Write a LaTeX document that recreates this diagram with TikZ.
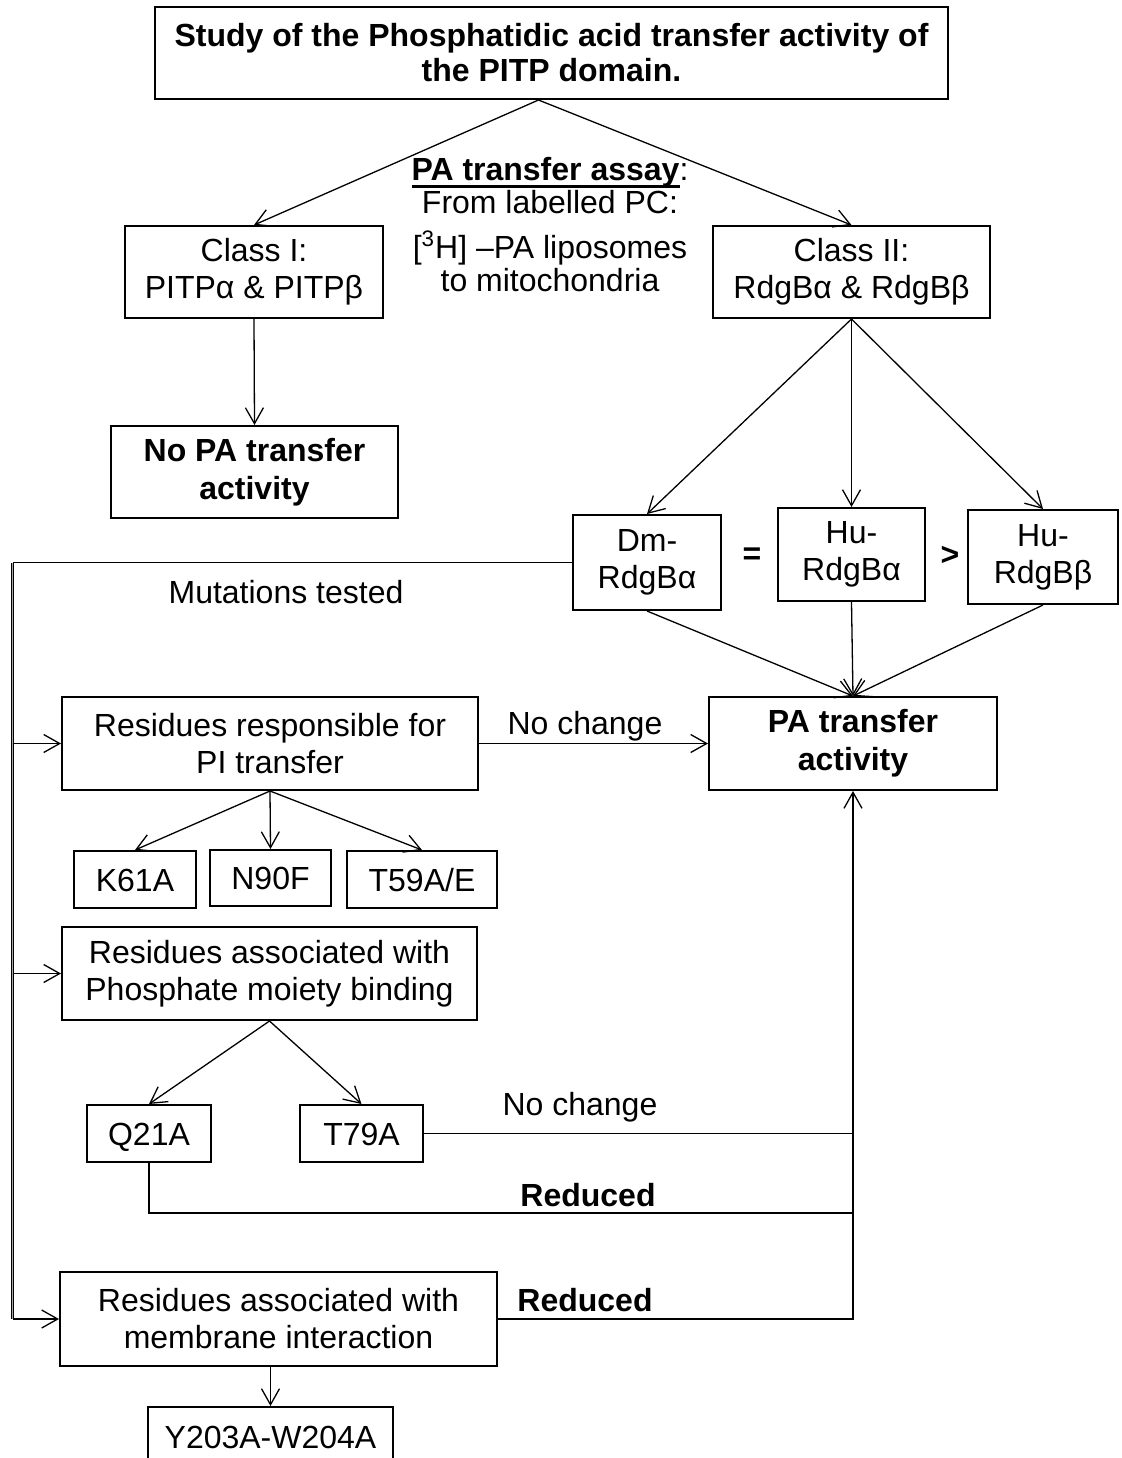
\documentclass[tikz,border=0pt]{standalone}
\usepackage{fontspec}
\setmainfont{Liberation Sans}
\usetikzlibrary{arrows.meta}
\newcommand\myul[1]{\setbox0\hbox{#1}\rlap{\rule[-3.3pt]{\wd0}{1.2pt}}\box0}
\begin{document}
\begin{tikzpicture}[x=0.5pt,y=-0.5pt,
  box/.style={draw, line width=1pt, inner sep=0pt, align=center, font=\fontsize{16}{18.5}\selectfont},
  sbox/.style={box, text height=11.6pt, text depth=0pt},
  bbox/.style={box, font=\fontsize{16}{19}\selectfont\bfseries},
  lbl/.style={inner sep=0pt, align=center, font=\fontsize{16}{18.5}\selectfont},
  blbl/.style={lbl, font=\fontsize{16}{18.5}\selectfont\bfseries},
  arr/.style={line width=0.65pt, -{Straight Barb[length=8pt,width=9pt]}},
  ln/.style={line width=0.65pt}]
\useasboundingbox (0,0) rectangle (1122,1458);
\begin{scope}
\clip (0,0) rectangle (1122,1458);
% boxes
\node[bbox, font=\fontsize{16}{17.5}\selectfont\bfseries, minimum width=396.5pt, minimum height=46pt] (title) at (551.5,53) {Study of the Phosphatidic acid transfer activity of\\the PITP domain.};
\node[box, minimum width=129pt, minimum height=46pt] (class1) at (254,272) {Class I:\\PITPα \& PITPβ};
\node[box, minimum width=138.5pt, minimum height=46pt] (class2) at (851.5,272) {Class II:\\RdgBα \& RdgBβ};
\node[bbox, minimum width=143.5pt, minimum height=46pt] (nopa) at (254.5,472) {No PA transfer\\activity};
\node[box, minimum width=74pt, minimum height=47.5pt] (dm) at (647,562.5) {Dm-\\RdgBα};
\node[box, minimum width=73.5pt, minimum height=46.5pt] (hua) at (851.5,554.5) {Hu-\\RdgBα};
\node[box, minimum width=75pt, minimum height=47pt] (hub) at (1043,557) {Hu-\\RdgBβ};
\node[bbox, minimum width=144pt, minimum height=46.5pt] (pa) at (853,743.5) {PA transfer\\activity};
\node[box, minimum width=208pt, minimum height=46.5pt] (pi) at (270,743.5) {Residues responsible for\\PI transfer};
\node[sbox, minimum width=61pt, minimum height=28.5pt] (k61) at (135,879.5) {K61A};
\node[sbox, minimum width=60.5pt, minimum height=28pt] (n90) at (270.5,878) {N90F};
\node[sbox, minimum width=75pt, minimum height=28.5pt] (t59) at (422,879.5) {T59A/E};
\node[box, minimum width=207.5pt, minimum height=46.5pt] (phos) at (269.5,973.5) {Residues associated with\\Phosphate moiety binding};
\node[sbox, minimum width=62pt, minimum height=28.5pt] (q21) at (149,1133.5) {Q21A};
\node[sbox, minimum width=61.5pt, minimum height=28.5pt] (t79) at (361.5,1133.5) {T79A};
\node[box, minimum width=218.5pt, minimum height=47pt] (mem) at (278.5,1319) {Residues associated with\\membrane interaction};
\node[sbox, minimum width=122.5pt, minimum height=30pt] (y203) at (270.5,1437) {Y203A-W204A};
% labels
\node[blbl] (eq) at (752,556) {=};
\node[blbl] (gt) at (950,556) {>};
\node[lbl] (assay) at (550,225) {\textbf{\myul{PA transfer assay}}:\\[-2pt]From labelled PC:\\[4pt]{[}\textsuperscript{3}H] --PA liposomes\\[-2pt]to mitochondria};
\node[lbl] (mut) at (286,592) {Mutations tested};
\node[lbl] (nc1) at (585,726) {No change};
\node[lbl] (nc2) at (580,1107) {No change};
\node[blbl] (red1) at (588,1195) {Reduced};
\node[blbl] (red2) at (585,1300) {Reduced};
% connectors
\draw[arr] ([xshift=-6.5pt]title.south) -- (class1.north);
\draw[arr] ([xshift=-6.5pt]title.south) -- (class2.north);
\draw[arr] (class1.south) -- (nopa.north);
\draw[arr] (class2.south) -- (dm.north);
\draw[arr] (class2.south) -- (hua.north);
\draw[arr] (class2.south) -- (hub.north);
\draw[arr] (dm.south) -- (pa.north);
\draw[arr] (hua.south) -- (pa.north);
\draw[arr] (hub.south) -- (pa.north);
\coordinate (busbot) at (12.5,1319);
\draw[ln] (dm.west) -- (dm.west -| busbot);
\draw[line width=0.5pt, double=gray!70, double distance=0.8pt] (dm.west -| busbot) -- (busbot);
\draw[arr] (busbot) -- (mem.west);
\draw[arr] (pi.west -| busbot) -- (pi.west);
\draw[arr] (phos.west -| busbot) -- (phos.west);
\draw[arr] (pi.east) -- (pa.west);
\draw[arr] (pi.south) -- (k61.north);
\draw[arr] (pi.south) -- (n90.north);
\draw[arr] (pi.south) -- (t59.north);
\draw[arr] (phos.south) -- (q21.north);
\draw[arr] (phos.south) -- (t79.north);
\draw[ln] (t79.east) -- (t79.east -| pa.south);
\coordinate (qr) at (853,1213);
\draw[ln] (q21.south) |- (qr);
\draw[arr] (mem.east) -| (pa.south);
\draw[arr] (mem.south -| y203.north) -- (y203.north);
\end{scope}
\end{tikzpicture}
\end{document}
